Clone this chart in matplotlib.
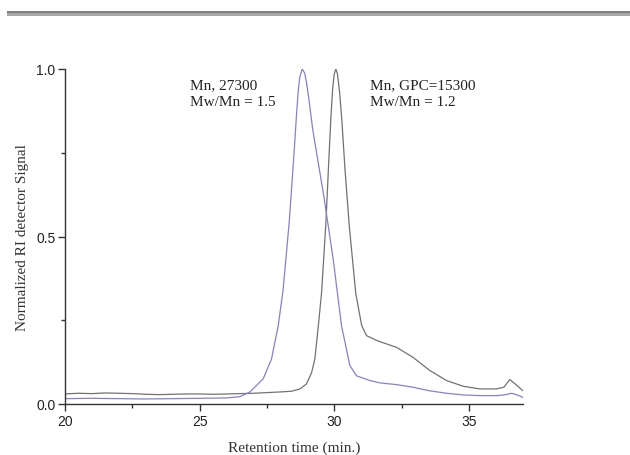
import matplotlib
matplotlib.use("Agg")
import matplotlib.pyplot as plt
from matplotlib.patches import Rectangle
from matplotlib.ticker import MultipleLocator

# Retention time (min.) and normalized signal
t_gray = [20.0, 20.5, 21.0, 21.5, 22.0, 22.5, 23.0, 23.5, 24.0, 24.5, 25.0, 25.5,
          26.0, 26.5, 27.0, 27.5, 28.0, 28.4, 28.6, 28.73, 28.97, 29.16, 29.28,
          29.41, 29.53, 29.69, 29.8, 29.88, 29.94, 30.0, 30.06, 30.12, 30.2,
          30.28, 30.4, 30.56, 30.8, 31.02, 31.2, 31.57, 31.7, 32.32, 32.93,
          33.55, 34.17, 34.79, 35.41, 36.03, 36.3, 36.52, 36.75, 37.0]
s_gray = [0.030, 0.032, 0.031, 0.033, 0.032, 0.031, 0.029, 0.028, 0.029, 0.030,
          0.030, 0.029, 0.030, 0.031, 0.032, 0.034, 0.036, 0.038, 0.042, 0.045,
          0.060, 0.094, 0.134, 0.234, 0.333, 0.540, 0.730, 0.860, 0.940, 0.985,
          1.000, 0.985, 0.930, 0.850, 0.700, 0.530, 0.330, 0.234, 0.204, 0.190,
          0.186, 0.169, 0.139, 0.100, 0.070, 0.053, 0.045, 0.045, 0.050, 0.073,
          0.058, 0.040]

t_blue = [20.0, 21.0, 22.0, 23.0, 24.0, 25.0, 26.0, 26.5, 26.87, 27.36, 27.67,
          27.92, 28.1, 28.33, 28.5, 28.6, 28.66, 28.72, 28.81, 28.9, 28.97, 29.05,
          29.2, 29.62, 29.96, 30.27, 30.58, 30.83, 31.33, 31.7, 32.3, 32.93,
          33.5, 34.17, 34.8, 35.4, 36.03, 36.3, 36.59, 36.8, 37.0]
s_blue = [0.016, 0.017, 0.016, 0.015, 0.016, 0.017, 0.018, 0.022, 0.036, 0.075,
          0.134, 0.234, 0.340, 0.545, 0.740, 0.865, 0.932, 0.975, 1.000, 0.988,
          0.960, 0.915, 0.820, 0.617, 0.433, 0.234, 0.115, 0.084, 0.070, 0.063,
          0.058, 0.050, 0.040, 0.032, 0.027, 0.025, 0.025, 0.027, 0.032, 0.027,
          0.020]

label_left = ["Mn, 27300", "Mw/Mn = 1.5"]
label_right = ["Mn, GPC=15300", "Mw/Mn = 1.2"]
xlabel = "Retention time (min.)"
ylabel = "Normalized RI detector Signal"

fig = plt.figure(figsize=(6.3, 4.56), dpi=100)
fig.patch.set_facecolor("white")

# decorative bar at the top
fig.add_artist(Rectangle((7/630, 1 - 14/456), 1 - 7/630, 2.5/456,
                         transform=fig.transFigure, color="#7f7f7f", lw=0))
fig.add_artist(Rectangle((7/630, 1 - 16.8/456), 1 - 7/630, 2.8/456,
                         transform=fig.transFigure, color="#a8a8a8", lw=0))

ax = fig.add_axes([65/630, 1 - 405/456, (522.7 - 65)/630, (405 - 70)/456])
ax.plot(t_gray, s_gray, color="#727272", lw=0.9)
ax.plot(t_blue, s_blue, color="#8282d0", lw=0.9)

ax.set_xlim(20, 37)
ax.set_ylim(0, 1.0)
for side in ("top", "right"):
    ax.spines[side].set_visible(False)
for side in ("left", "bottom"):
    ax.spines[side].set_color("#333333")
    ax.spines[side].set_linewidth(1.0)

ax.xaxis.set_major_locator(MultipleLocator(5))
ax.xaxis.set_minor_locator(MultipleLocator(2.5))
ax.yaxis.set_major_locator(MultipleLocator(0.5))
ax.yaxis.set_minor_locator(MultipleLocator(0.25))
ax.tick_params(which="major", direction="out", length=5, width=1.0, color="#333333",
               labelsize=10, labelcolor="#222222", pad=2)
ax.tick_params(which="minor", direction="out", length=3, width=1.0, color="#333333")
ax.set_xticks([20, 25, 30, 35])
ax.set_xticklabels(["20", "25", "30", "35"], family="Liberation Sans")
ax.set_yticks([0.0, 0.5, 1.0])
ax.set_yticklabels(["0.0", "0.5", "1.0"], family="Liberation Sans")

ax.set_xlabel(xlabel, family="Liberation Serif", fontsize=11, color="#333333", labelpad=9)
ax.set_ylabel(ylabel, family="Liberation Serif", fontsize=11, color="#333333", labelpad=5)

ax.text(24.64, 0.952, label_left[0], family="Liberation Serif", fontsize=11,
        va="center", ha="left", color="#222222")
ax.text(24.64, 0.904, label_left[1], family="Liberation Serif", fontsize=11,
        va="center", ha="left", color="#222222")
ax.text(31.33, 0.952, label_right[0], family="Liberation Serif", fontsize=11,
        va="center", ha="left", color="#222222")
ax.text(31.33, 0.904, label_right[1], family="Liberation Serif", fontsize=11,
        va="center", ha="left", color="#222222")

fig.savefig("out.png", dpi=100)
